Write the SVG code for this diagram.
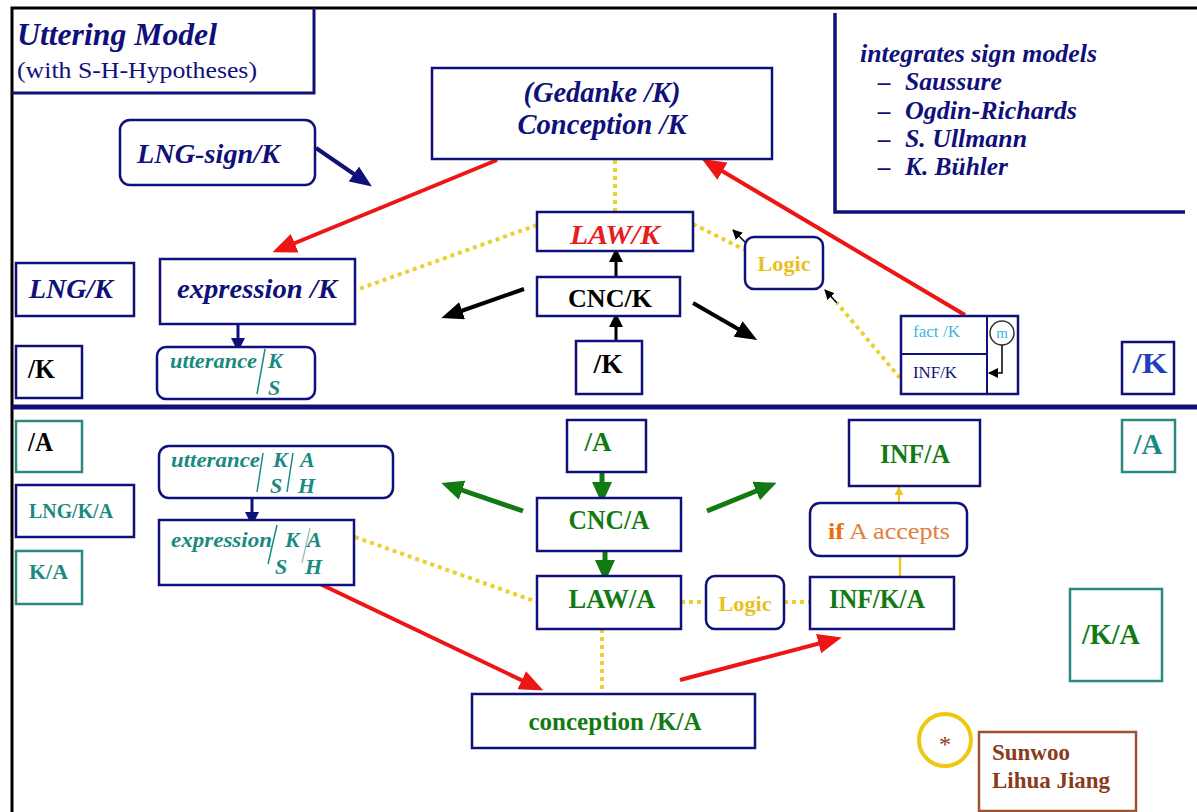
<svg xmlns="http://www.w3.org/2000/svg" width="1197" height="812" viewBox="0 0 1197 812">
<style>
.t{font-family:"Liberation Serif","Times New Roman",serif;}
.b{font-weight:bold;}
.i{font-style:italic;}
.nv{fill:#10107a;}
.tl{fill:#1a8a80;}
.gr{fill:#127a12;}
.box{fill:#fff;stroke:#10107a;stroke-width:2.5;}
.tbox{fill:#fff;stroke:#2a8a80;stroke-width:2.5;}
.dot{stroke:#ecd030;stroke-width:4;stroke-dasharray:4 4;fill:none;}
.mid{text-anchor:middle;}
</style>
<defs>
<marker id="mRed" markerUnits="userSpaceOnUse" markerWidth="24" markerHeight="20" refX="18" refY="10" orient="auto"><path d="M0,0 L24,10 L0,20 z" fill="#ee1515"/></marker>
<marker id="mBlk" markerUnits="userSpaceOnUse" markerWidth="22" markerHeight="18" refX="16" refY="9" orient="auto"><path d="M0,0 L22,9 L0,18 z" fill="#000"/></marker>
<marker id="mBlkS" markerUnits="userSpaceOnUse" markerWidth="14" markerHeight="14" refX="10" refY="7" orient="auto"><path d="M0,0 L14,7 L0,14 z" fill="#000"/></marker>
<marker id="mBlkT" markerUnits="userSpaceOnUse" markerWidth="10" markerHeight="10" refX="9" refY="5" orient="auto"><path d="M0,0 L10,5 L0,10 z" fill="#000"/></marker>
<marker id="mNv" markerUnits="userSpaceOnUse" markerWidth="22" markerHeight="18" refX="16" refY="9" orient="auto"><path d="M0,0 L22,9 L0,18 z" fill="#10107a"/></marker>
<marker id="mNvS" markerUnits="userSpaceOnUse" markerWidth="14" markerHeight="14" refX="10" refY="7" orient="auto"><path d="M0,0 L14,7 L0,14 z" fill="#10107a"/></marker>
<marker id="mGr" markerUnits="userSpaceOnUse" markerWidth="22" markerHeight="20" refX="16" refY="10" orient="auto"><path d="M0,0 L22,10 L0,20 z" fill="#127a12"/></marker>
<marker id="mYl" markerUnits="userSpaceOnUse" markerWidth="9" markerHeight="9" refX="8" refY="4.5" orient="auto"><path d="M0,0 L9,4.5 L0,9 z" fill="#f0c820"/></marker>
</defs>
<rect x="0" y="0" width="1197" height="812" fill="#fff"/>

<g id="frame" fill="none">
<path d="M12,812 L12,8 L1197,8" stroke="#000" stroke-width="3"/>
<path d="M12,93 L314,93 L314,8" stroke="#10107a" stroke-width="3"/>
<path d="M835,13 L835,212 L1185,212" stroke="#10107a" stroke-width="3.5"/>
<line x1="12" y1="407" x2="1197" y2="407" stroke="#10107a" stroke-width="5"/>
</g>

<g id="title">
<text class="t b i nv" x="17" y="45" font-size="31" textLength="200" lengthAdjust="spacingAndGlyphs">Uttering Model</text>
<text class="t nv" x="17" y="78" font-size="23" textLength="240" lengthAdjust="spacingAndGlyphs">(with S-H-Hypotheses)</text>
</g>

<g id="signmodels" class="t b i nv" font-size="25">
<text x="860" y="62" textLength="237" lengthAdjust="spacingAndGlyphs">integrates sign models</text>
<text x="878" y="90">–</text><text x="905" y="90" textLength="97" lengthAdjust="spacingAndGlyphs">Saussure</text>
<text x="878" y="119">–</text><text x="905" y="119" textLength="172" lengthAdjust="spacingAndGlyphs">Ogdin-Richards</text>
<text x="878" y="147">–</text><text x="905" y="147" textLength="122" lengthAdjust="spacingAndGlyphs">S. Ullmann</text>
<text x="878" y="175">–</text><text x="905" y="175" textLength="103" lengthAdjust="spacingAndGlyphs">K. Bühler</text>
</g>

<g id="connectors">
<line x1="316" y1="148" x2="367" y2="183" stroke="#10107a" stroke-width="4" marker-end="url(#mNv)"/>
<line x1="497" y1="160" x2="278" y2="250" stroke="#ee1515" stroke-width="4" marker-end="url(#mRed)"/>
<line x1="965" y1="315" x2="707" y2="162" stroke="#ee1515" stroke-width="4" marker-end="url(#mRed)"/>
<line class="dot" x1="615" y1="160" x2="615" y2="212"/>
<line class="dot" x1="537" y1="225" x2="356" y2="290"/>
<line class="dot" x1="693" y1="224" x2="745" y2="250"/>
<line x1="745" y1="242" x2="733" y2="230" stroke="#000" stroke-width="1.5" marker-end="url(#mBlkT)"/>
<line class="dot" x1="900" y1="378" x2="837" y2="303"/>
<line x1="837" y1="303" x2="825" y2="290" stroke="#000" stroke-width="1.5" marker-end="url(#mBlkT)"/>
<line x1="616" y1="341" x2="616" y2="317" stroke="#000" stroke-width="3" marker-end="url(#mBlkS)"/>
<line x1="616" y1="277" x2="616" y2="252" stroke="#000" stroke-width="3" marker-end="url(#mBlkS)"/>
<line x1="524" y1="289" x2="447" y2="316" stroke="#000" stroke-width="4" marker-end="url(#mBlk)"/>
<line x1="693" y1="303" x2="752" y2="337" stroke="#000" stroke-width="4" marker-end="url(#mBlk)"/>
<line x1="238" y1="324" x2="238" y2="348" stroke="#10107a" stroke-width="3" marker-end="url(#mNvS)"/>
<line x1="252" y1="498" x2="252" y2="522" stroke="#10107a" stroke-width="3" marker-end="url(#mNvS)"/>
<line class="dot" x1="355" y1="537" x2="537" y2="602"/>
<line x1="318" y1="583" x2="538" y2="688" stroke="#ee1515" stroke-width="4" marker-end="url(#mRed)"/>
<line x1="680" y1="680" x2="836" y2="639" stroke="#ee1515" stroke-width="4" marker-end="url(#mRed)"/>
<line x1="602" y1="472" x2="602" y2="498" stroke="#127a12" stroke-width="5" marker-end="url(#mGr)"/>
<line x1="605" y1="551" x2="605" y2="576" stroke="#127a12" stroke-width="5" marker-end="url(#mGr)"/>
<line x1="523" y1="511" x2="447" y2="485" stroke="#127a12" stroke-width="5" marker-end="url(#mGr)"/>
<line x1="707" y1="511" x2="771" y2="485" stroke="#127a12" stroke-width="5" marker-end="url(#mGr)"/>
<line class="dot" x1="681" y1="602" x2="706" y2="602"/>
<line class="dot" x1="784" y1="602" x2="810" y2="602"/>
<line class="dot" x1="602" y1="629" x2="602" y2="694"/>
<line x1="900" y1="577" x2="900" y2="556" stroke="#f0c820" stroke-width="2.5"/>
<line x1="899" y1="503" x2="899" y2="487" stroke="#f0c820" stroke-width="2" marker-end="url(#mYl)"/>
</g>

<g id="lng-sign">
<rect class="box" x="120" y="120" width="195" height="65" rx="10"/>
<text class="t b i nv" x="137" y="163" font-size="27" textLength="143" lengthAdjust="spacingAndGlyphs">LNG-sign/K</text>
</g>

<g id="conception-k">
<rect class="box" x="432" y="68" width="340" height="91"/>
<text class="t b i nv mid" x="602" y="102" font-size="29" textLength="157" lengthAdjust="spacingAndGlyphs">(Gedanke /K)</text>
<text class="t b i nv mid" x="602" y="134" font-size="29" textLength="169" lengthAdjust="spacingAndGlyphs">Conception /K</text>
</g>

<g id="law-k">
<rect class="box" x="537" y="212" width="156" height="39"/>
<text class="t b i mid" x="615" y="244" font-size="28" fill="#e81c1c" textLength="90" lengthAdjust="spacingAndGlyphs">LAW/K</text>
</g>

<g id="cnc-k">
<rect class="box" x="537" y="277" width="143" height="39"/>
<text class="t b mid" x="610" y="307" font-size="26" fill="#000" textLength="84" lengthAdjust="spacingAndGlyphs">CNC/K</text>
</g>

<g id="k-center">
<rect class="box" x="576" y="341" width="66" height="53"/>
<text class="t b mid" x="608" y="373" font-size="27" fill="#000" textLength="29" lengthAdjust="spacingAndGlyphs">/K</text>
</g>

<g id="logic-k">
<rect class="box" x="745" y="237" width="78" height="52" rx="9"/>
<text class="t b mid" x="784" y="271" font-size="22" fill="#e8c020" textLength="53" lengthAdjust="spacingAndGlyphs">Logic</text>
</g>

<g id="fact-k">
<rect class="box" x="901" y="316" width="117" height="78"/>
<line x1="987" y1="316" x2="987" y2="394" stroke="#10107a" stroke-width="2"/>
<line x1="901" y1="354" x2="987" y2="354" stroke="#10107a" stroke-width="2"/>
<text class="t" x="913" y="337" font-size="17" fill="#40b8e0" textLength="47" lengthAdjust="spacingAndGlyphs">fact /K</text>
<text class="t nv" x="913" y="378" font-size="17" textLength="44" lengthAdjust="spacingAndGlyphs">INF/K</text>
<circle cx="1002" cy="333" r="12" fill="#fff" stroke="#333" stroke-width="1.5"/>
<text class="t mid" x="1002" y="338" font-size="15" fill="#40b8e0">m</text>
<path d="M1002,345 L1002,373 L989,373" fill="none" stroke="#000" stroke-width="1.5" marker-end="url(#mBlkT)"/>
</g>

<g id="k-right">
<rect class="box" x="1122" y="342" width="52" height="52"/>
<text class="t b mid" x="1150" y="373" font-size="29" fill="#1f3fbf" textLength="35" lengthAdjust="spacingAndGlyphs">/K</text>
</g>

<g id="lng-k">
<rect class="box" x="16" y="263" width="118" height="53"/>
<text class="t b i nv" x="29" y="298" font-size="27" textLength="84" lengthAdjust="spacingAndGlyphs">LNG/K</text>
</g>

<g id="expression-k">
<rect class="box" x="160" y="259" width="195" height="65"/>
<text class="t b i nv mid" x="257" y="298" font-size="28" textLength="160" lengthAdjust="spacingAndGlyphs">expression /K</text>
</g>

<g id="k-left">
<rect class="box" x="16" y="346" width="66" height="52"/>
<text class="t b" x="28" y="378" font-size="27" fill="#000" textLength="27" lengthAdjust="spacingAndGlyphs">/K</text>
</g>

<g id="utterance-k">
<rect class="box" x="157" y="347" width="158" height="52" rx="9"/>
<text class="t b i tl" x="170" y="368" font-size="21" textLength="87" lengthAdjust="spacingAndGlyphs">utterance</text>
<line x1="265" y1="349" x2="257" y2="394" stroke="#1a8a80" stroke-width="1.5"/>
<text class="t b i tl" x="268" y="368" font-size="22">K</text>
<text class="t b i tl" x="268" y="395" font-size="22">S</text>
</g>

<g id="a-left">
<rect class="tbox" x="16" y="421" width="66" height="51"/>
<text class="t b" x="28" y="451" font-size="27" fill="#000" textLength="25" lengthAdjust="spacingAndGlyphs">/A</text>
</g>

<g id="lng-k-a">
<rect class="box" x="16" y="485" width="118" height="52"/>
<text class="t b tl" x="29" y="518" font-size="20" textLength="84" lengthAdjust="spacingAndGlyphs">LNG/K/A</text>
</g>

<g id="k-a">
<rect class="tbox" x="16" y="551" width="66" height="53"/>
<text class="t b tl" x="29" y="579" font-size="22" textLength="39" lengthAdjust="spacingAndGlyphs">K/A</text>
</g>

<g id="utterance-ka">
<rect class="box" x="159" y="446" width="234" height="52" rx="10"/>
<text class="t b i tl" x="171" y="467" font-size="21" textLength="89" lengthAdjust="spacingAndGlyphs">utterance</text>
<line x1="263" y1="453" x2="257" y2="492" stroke="#1a8a80" stroke-width="1.5"/>
<line x1="293" y1="453" x2="287" y2="492" stroke="#1a8a80" stroke-width="1.5"/>
<text class="t b i tl" x="273" y="467" font-size="22">K</text>
<text class="t b i tl" x="270" y="493" font-size="22">S</text>
<text class="t b i tl" x="300" y="467" font-size="22">A</text>
<text class="t b i tl" x="298" y="493" font-size="22">H</text>
</g>

<g id="expression-ka">
<rect class="box" x="159" y="520" width="195" height="65"/>
<text class="t b i tl" x="171" y="547" font-size="21" textLength="101" lengthAdjust="spacingAndGlyphs">expression</text>
<line x1="277" y1="525" x2="268" y2="564" stroke="#1a8a80" stroke-width="1.5"/>
<line x1="310" y1="528" x2="302" y2="563" stroke="#8ac0bc" stroke-width="1.2"/>
<text class="t b i tl" x="285" y="547" font-size="22">K</text>
<text class="t b i tl" x="275" y="574" font-size="22">S</text>
<text class="t b i tl" x="307" y="547" font-size="22">A</text>
<text class="t b i tl" x="305" y="574" font-size="22">H</text>
</g>

<g id="a-center">
<rect class="box" x="567" y="420" width="79" height="52"/>
<text class="t b gr mid" x="598" y="451" font-size="27" textLength="27" lengthAdjust="spacingAndGlyphs">/A</text>
</g>

<g id="cnc-a">
<rect class="box" x="537" y="498" width="144" height="53"/>
<text class="t b gr mid" x="609" y="529" font-size="27" textLength="81" lengthAdjust="spacingAndGlyphs">CNC/A</text>
</g>

<g id="law-a">
<rect class="box" x="537" y="576" width="144" height="53"/>
<text class="t b gr mid" x="612" y="608" font-size="27" textLength="87" lengthAdjust="spacingAndGlyphs">LAW/A</text>
</g>

<g id="logic-a">
<rect class="box" x="706" y="576" width="78" height="53" rx="9"/>
<text class="t b mid" x="745" y="611" font-size="22" fill="#e8c020" textLength="53" lengthAdjust="spacingAndGlyphs">Logic</text>
</g>

<g id="inf-k-a">
<rect class="box" x="810" y="577" width="144" height="52"/>
<text class="t b gr mid" x="877" y="608" font-size="27" textLength="96" lengthAdjust="spacingAndGlyphs">INF/K/A</text>
</g>

<g id="if-accepts">
<rect class="box" x="810" y="503" width="157" height="53" rx="10"/>
<text class="t" x="828" y="539" font-size="24" fill="#e08040" textLength="122" lengthAdjust="spacingAndGlyphs"><tspan font-weight="bold" fill="#e87010">if</tspan> A accepts</text>
</g>

<g id="inf-a">
<rect class="box" x="849" y="420" width="131" height="66"/>
<text class="t b gr mid" x="915" y="463" font-size="27" textLength="70" lengthAdjust="spacingAndGlyphs">INF/A</text>
</g>

<g id="a-right">
<rect class="tbox" x="1122" y="420" width="53" height="52"/>
<text class="t b tl mid" x="1148" y="454" font-size="29" textLength="29" lengthAdjust="spacingAndGlyphs">/A</text>
</g>

<g id="k-a-right">
<rect class="tbox" x="1070" y="589" width="92" height="92"/>
<text class="t b gr mid" x="1111" y="644" font-size="29" textLength="58" lengthAdjust="spacingAndGlyphs">/K/A</text>
</g>

<g id="conception-ka">
<rect class="box" x="472" y="694" width="283" height="54"/>
<text class="t b gr mid" x="615" y="730" font-size="26" textLength="173" lengthAdjust="spacingAndGlyphs">conception /K/A</text>
</g>

<g id="signature">
<ellipse cx="945" cy="740" rx="26" ry="26" fill="#fff" stroke="#f0c810" stroke-width="4"/>
<text class="t mid" x="945" y="752" font-size="24" fill="#8b3a1a">*</text>
<rect x="979" y="732" width="157" height="79" fill="#fff" stroke="#a0522d" stroke-width="2.5"/>
<text class="t b" x="992" y="760" font-size="23" fill="#8b3a1a">Sunwoo</text>
<text class="t b" x="992" y="788" font-size="23" fill="#8b3a1a" textLength="118" lengthAdjust="spacingAndGlyphs">Lihua Jiang</text>
</g>
</svg>
